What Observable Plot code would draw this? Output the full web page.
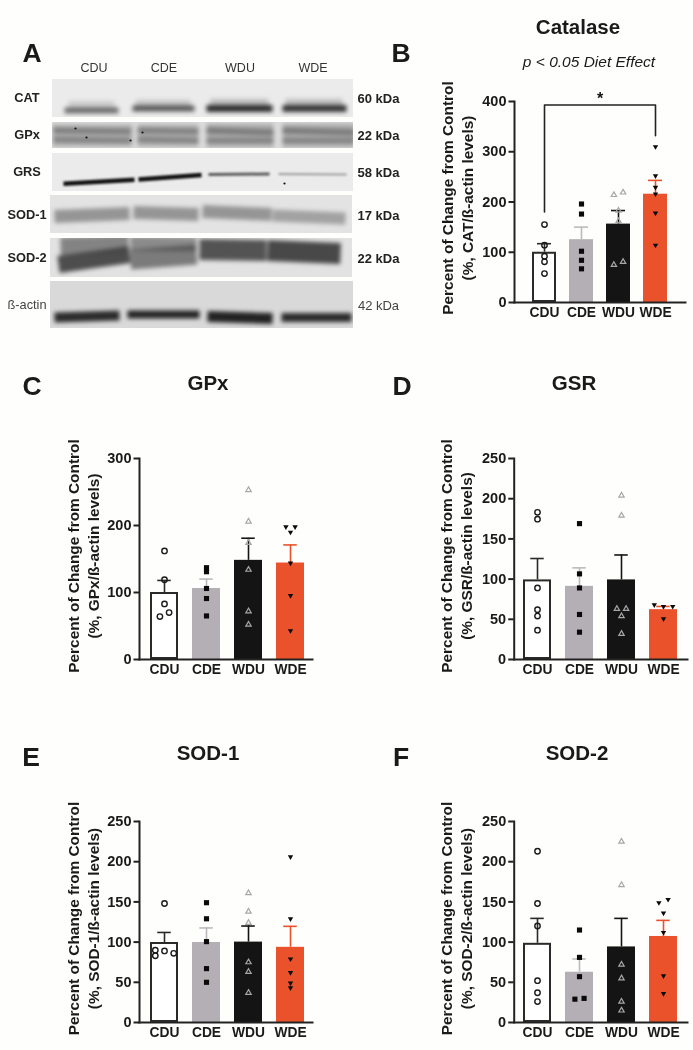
<!DOCTYPE html>
<html><head><meta charset="utf-8">
<script src="https://cdn.jsdelivr.net/npm/d3@7"></script>
<script src="https://cdn.jsdelivr.net/npm/@observablehq/plot@0.6"></script>
<style>
html,body{margin:0;padding:0;background:#fefefd;}
#page{position:relative;width:693px;height:1050px;overflow:hidden;font-family:"Liberation Sans",Arial,sans-serif;color:#1a1a1a;filter:blur(.4px);}
.t{position:absolute;transform:translate(-50%,-50%);white-space:nowrap;line-height:1;}
svg{position:absolute;}
</style></head><body><div id="page"></div>
<script>
const categories=["CDU","CDE","WDU","WDE"];
// ---- panel values
const catMeans=[100,125,156,215.5], catErr=[117,150,183,243];
const catPoints=[[155,114,92,81,57.5],[196,176,102,84,67],[214,219,183,162,81,75],[310,252,229,216,178,114]];
const catJitter=[[0,0,0,0,0],[0,0,0,0,0],[-1,1,0,0,1,-1],[0,0,0,0,0,0]];
const gpxMeans=[100,106,148,144], gpxErr=[118,120,181,171];
const gpxPoints=[[162,119,83,70,64],[137,131,106,91,65],[253,206,174,134,72,52],[198,198,190,144,95.5,43]];
const gpxJitter=[[0,0,0,1,-1],[0,0,0,0,0],[0,0,0,0,0,0],[-1,1,0,0,0,0]];
const gsrMeans=[99,91,99,62], gsrErr=[125.6,114,130,66];
const gsrPoints=[[183,174.5,89,62,54,36.5],[169,106.5,89,56,34],[204,179,63,63,54,32],[68,66,66,50.6]];
const gsrJitter=[[0,0,0,0,0,0],[0,0,0,0,0],[0,0,-1,1,0,0],[-2,0,2,0]];
const sod1Means=[99.5,99.5,100,93.5], sod1Err=[112,117.6,120,119.6];
const sod1Points=[[148,90,89,86,83],[149,129,100.6,67,50],[161,138,124,75,63,37],[206,129,79,62,49,43]];
const sod1Jitter=[[0,-2,0,2,-2],[0,0,0,0,0],[0,0,0,0,0,0],[0,0,0,0,0,0]];
const sod2Means=[98.5,62.5,94,107], sod2Err=[129.5,79,129.5,127];
const sod2Points=[[213,148,120,52,37,26],[115,81,57,29,30],[225,171,72,55,26,15],[149,153,136,112,58,36]];
const sod2Jitter=[[0,0,0,0,0,0],[0,0,0,-1,1],[0,0,0,0,0,0],[-1,1,0,0,0,0]];
// ---- bar / point styling
const barFill=["#ffffff","#b4afb4","#141414","#e9522b"];
const errColor=["#2a2a2a","#bdb9bd","#141414","#e9522b"];
const page=document.getElementById("page");
function text(str,x,y,size,opts={}){
  const d=document.createElement("div");d.className="t";d.textContent=str;
  d.style.left=x+"px";d.style.top=y+"px";d.style.fontSize=size+"px";
  if(opts.bold!==false)d.style.fontWeight="bold";
  if(opts.italic)d.style.fontStyle="italic";
  if(opts.color)d.style.color=opts.color;
  page.appendChild(d);
}
const symbolStyles=[
 {symbol:"circle",r:2.7,fill:"none",stroke:"#1a1a1a",strokeWidth:1.4},
 {symbol:"square",r:2.9,fill:"#0a0a0a"},
 {symbol:"triangle",r:2,fill:"none",stroke:"#a8a6a8",strokeWidth:1.2},
 {symbol:"triangle",r:2,fill:"#0a0a0a",rotate:180}
];
function panel(o){
  const svgLeft=o.left, svgTop=o.yTop-20, marginLeft=o.axisX-svgLeft, w=o.axisEnd-svgLeft+6;
  const h=o.y0-svgTop+30;
  const rows=categories.map((g,i)=>({g,i,mean:o.means[i],err:o.err[i]}));
  const marks=[
    Plot.barY(rows,{x:"g",y:"mean",fill:d=>barFill[d.i]}),
    Plot.barY(rows.slice(0,1),{x:"g",y:"mean",fill:"#fff",stroke:"#2a2a2a",strokeWidth:2,inset:1}),
    Plot.ruleX(rows,{x:"g",y1:"mean",y2:"err",stroke:d=>errColor[d.i],strokeWidth:1.6}),
    Plot.tickY(rows,{x:"g",y:"err",stroke:d=>errColor[d.i],strokeWidth:1.6,inset:(o.bw-14)/2})
  ];
  categories.forEach((g,i)=>{
    const pts=o.points[i].map((v,k)=>({g,v,j:o.jitter[i][k]}));
    for(const j of new Set(pts.map(p=>p.j))){
      marks.push(Plot.dot(pts.filter(p=>p.j===j),{x:"g",y:"v",dx:j*4.6,...symbolStyles[i]}));
    }
  });
  marks.push(
    Plot.frame({anchor:"left",stroke:"#222",strokeWidth:2}),
    Plot.frame({anchor:"bottom",stroke:"#222",strokeWidth:2}),
    Plot.axisY({ticks:o.ticks,tickSize:5.5,tickPadding:2.5,fontWeight:"bold",fontSize:14.5,label:null,stroke:"#222",strokeWidth:2,fill:"#1a1a1a"}),
    Plot.axisX({tickSize:0,tickPadding:4.5,fontWeight:"bold",fontSize:13.8,label:null,fill:"#1a1a1a"}),
    Plot.text([`Percent of Change from Control\n(%, ${o.name}/ß-actin levels)`],{frameAnchor:"left",textAnchor:"middle",rotate:-90,dx:o.labelDx,dy:o.labelDy,fontSize:15.4,fontWeight:"bold",lineHeight:1.3,fill:"#1a1a1a"})
  );
  if(o.extra)marks.push(...o.extra);
  const inner=1-o.bw/((o.xRight-o.xLeft-o.bw)/3);
  const svg=Plot.plot({
    width:w,height:h,marginLeft,marginRight:w-(o.axisEnd-svgLeft),marginTop:o.yTop-svgTop,marginBottom:30,
    style:{background:"transparent",overflow:"visible",fontFamily:'"Liberation Sans",Arial,sans-serif'},
    x:{type:"band",domain:categories,range:[o.xLeft-svgLeft,o.xRight-svgLeft],paddingInner:inner,paddingOuter:0,align:0.5},
    y:{domain:o.domain},
    marks
  });
  svg.style.left=svgLeft+"px";svg.style.top=svgTop+"px";
  page.appendChild(svg);
}
// ---- panel B significance bracket
const bracketLine=[{g:"CDU",v:180},{g:"CDU",v:393},{g:"WDE",v:393},{g:"WDE",v:332}];
const starMark=[{g:"CDE",v:409}];
panel({name:"CAT",means:catMeans,err:catErr,points:catPoints,jitter:catJitter,ticks:[0,100,200,300,400],domain:[0,400],
  left:420,axisX:514,axisEnd:685,yTop:101,y0:302,xLeft:532,xRight:667,bw:24,labelDx:-58,labelDy:-4,
  extra:[Plot.line(bracketLine,{x:"g",y:"v",stroke:"#222",strokeWidth:1.6}),
         Plot.text(starMark,{x:"g",y:"v",text:()=>"*",dx:18.5,dy:2,fontSize:16,fontWeight:"bold",fill:"#111"})]});
panel({name:"GPx",means:gpxMeans,err:gpxErr,points:gpxPoints,jitter:gpxJitter,ticks:[0,100,200,300],domain:[0,300],
  left:40,axisX:139,axisEnd:312,yTop:457.7,y0:658.7,xLeft:148,xRight:305,bw:28.5,labelDx:-57,labelDy:-3});
panel({name:"GSR",means:gsrMeans,err:gsrErr,points:gsrPoints,jitter:gsrJitter,ticks:[0,50,100,150,200,250],domain:[0,250],
  left:420,axisX:513.7,axisEnd:687,yTop:457.7,y0:658.7,xLeft:521.3,xRight:678.3,bw:28.5,labelDx:-58.7,labelDy:-3});
panel({name:"SOD-1",means:sod1Means,err:sod1Err,points:sod1Points,jitter:sod1Jitter,ticks:[0,50,100,150,200,250],domain:[0,250],
  left:40,axisX:139,axisEnd:312,yTop:821,y0:1022,xLeft:148,xRight:305,bw:28.5,labelDx:-57,labelDy:-3.5});
panel({name:"SOD-2",means:sod2Means,err:sod2Err,points:sod2Points,jitter:sod2Jitter,ticks:[0,50,100,150,200,250],domain:[0,250],
  left:420,axisX:513.7,axisEnd:687,yTop:821,y0:1022,xLeft:521.3,xRight:678.3,bw:28.5,labelDx:-58.7,labelDy:-3.5});

// ---- titles and panel letters
text("Catalase",578,27,20.5);
text("p < 0.05 Diet Effect",589,62,15.5,{bold:false,italic:true});
text("GPx",208,383,20.5);text("GSR",574,383,20.5);text("SOD-1",208,753,20.5);text("SOD-2",577,753,20.5);
[["A",32,53],["B",401,53],["C",32,386],["D",402,386],["E",31,757],["F",401,757]].forEach(a=>text(a[0],a[1],a[2],26.5));

// ---- panel A: immunoblot
const blotRowNames=["CAT","GPx","GRS","SOD-1","SOD-2","ß-actin"];
const blotKda=["60 kDa","22 kDa","58 kDa","17 kDa","22 kDa","42 kDa"];
const catBands=[[64,118,110,110,6,.65],[132,194,108,108,6,.75],[206,272,108,108,7,1],[282,346,108,108,7,.95],[68,114,105,105,9,.16],[135,190,104,104,9,.2],[210,268,103,103,9,.24],[285,342,103,103,9,.24]];
const gpxBands=[[52,132,135,135,22,.3],[53,130,130,131,5,.5],[53,130,139,140,5,.45],[137,198,135,135,22,.3],[137,198,130,131,5,.48],[137,198,139,140,5,.45],[206,273,135,135,24,.3],[206,273,130,132,6,.5],[206,273,140,140,5,.45],[282,354,135,135,24,.3],[282,354,130,132,6,.5],[282,354,140,140,5,.45]];
const grsBands=[[63,134,183.3,179.3,4.5,1],[138,201,179,174.5,4.5,1],[208,269,174,173.5,3,.65],[278,346,173.5,174,2.2,.35]];
const sod1Bands=[[54,129,216,213,13,.72],[133,198,212,214,13,.72],[202,271,211,214,13,.72],[272,345,215,218,12,.6]];
const sod2Bands=[[58,129,264,254,17,.95],[60,128,246,244,18,.6],[130,196,259,254,20,.65],[130,196,243,244,14,.55],[199,266,249,250,21,.9],[267,340,250,253,21,.98]];
const actinBands=[[54,119,317,315,10,.95],[127,199,314,314,8,1],[207,272,316,318,11,1],[281,351,317,317,9,.95]];
const gpxSpecks=[[75,75,128,128],[86,86,137,137],[142,142,132,132],[130,130,140,140]];
const grsSpecks=[[284,284,183,183]];
const blotBands=[catBands,gpxBands,grsBands,sod1Bands,sod2Bands,actinBands];
const blotSpecks=[[],gpxSpecks,grsSpecks,[],[],[]];
const blotBg=["#ebebeb","#dcdcdc","#ebebeb","#e3e3e3","#e2e2e2","#d9d9d9"];
const blotInk=["#2e2e2e","#444444","#111111","#777777","#444444","#222222"];
const blotEdges=[[52,353,79,117],[52,353,122,148],[52,353,153,191],[50,352,195,233],[50,352,238,277],[50,353,281,328]];
const labelRowY=[98,135,172,215,258,305];
const toBand=a=>({x1:a[0],x2:a[1],y1:a[2],y2:a[3],w:a[4],s:a[5]??1});
blotRowNames.forEach((name,i)=>{
  const [l,r,t,b]=blotEdges[i];
  const svg=Plot.plot({
    width:r-l,height:b-t,margin:0,
    style:{background:blotBg[i],overflow:"hidden"},
    x:{domain:[l,r],axis:null},y:{domain:[t,b],range:[0,b-t],axis:null},
    marks:[
      Plot.link(blotBands[i].map(toBand),{x1:"x1",x2:"x2",y1:"y1",y2:"y2",stroke:blotInk[i],strokeWidth:"w",strokeOpacity:"s"}),
      Plot.dot(blotSpecks[i].map(toBand),{x:"x1",y:"y1",r:1.1,fill:"#111",stroke:"none"})
    ]
  });
  const groups=svg.querySelectorAll('g[aria-label="link"]');
  groups.forEach(g=>{g.style.filter=i===2?"blur(.9px)":"blur(2.2px)";});
  svg.style.left=l+"px";svg.style.top=t+"px";
  page.appendChild(svg);
  const plain=name==="ß-actin";
  text(name,27,labelRowY[i],12.8,{bold:!plain,color:plain?"#444":"#222"});
  text(blotKda[i],378.5,labelRowY[i],13,{bold:!plain,color:plain?"#444":"#222"});
});
const laneHeaderX=[94,164,240,313];
categories.forEach((c,i)=>text(c,laneHeaderX[i],68,12.5,{bold:false,color:"#333"}));
</script></body></html>
